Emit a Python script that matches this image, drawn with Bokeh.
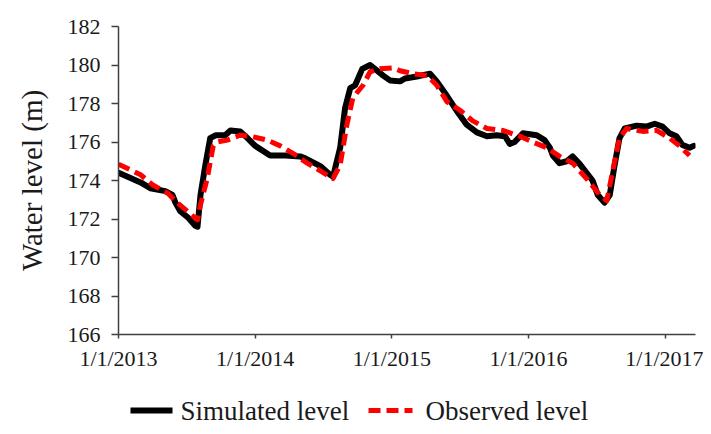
import pandas as pd
from bokeh.plotting import figure
from bokeh.layouts import column
from bokeh.models import FixedTicker, Range1d
from bokeh.core.properties import value
from bokeh.embed import file_html
from bokeh.resources import INLINE

# Simulated water level (m)
sim_dates = ["2013-01-01", "2013-03-01", "2013-03-27", "2013-05-06", "2013-05-25", "2013-06-02",
             "2013-06-15", "2013-07-07", "2013-07-25", "2013-07-31", "2013-08-08", "2013-08-21",
             "2013-09-03", "2013-09-17", "2013-10-13", "2013-10-27", "2013-11-22", "2013-12-06",
             "2014-01-01", "2014-02-10", "2014-03-22", "2014-05-01", "2014-05-15", "2014-06-24",
             "2014-07-20", "2014-07-28", "2014-08-16", "2014-08-29", "2014-09-12", "2014-09-25",
             "2014-10-14", "2014-11-04", "2014-12-09", "2014-12-27", "2015-01-23", "2015-02-05",
             "2015-03-09", "2015-04-13", "2015-05-01", "2015-05-28", "2015-06-24", "2015-07-20",
             "2015-08-16", "2015-09-12", "2015-10-08", "2015-10-30", "2015-11-12", "2015-11-25",
             "2015-12-17", "2016-01-23", "2016-02-13", "2016-02-27", "2016-03-06", "2016-03-24",
             "2016-04-12", "2016-04-28", "2016-05-17", "2016-06-04", "2016-06-20", "2016-07-04",
             "2016-07-22", "2016-08-05", "2016-08-18", "2016-08-31", "2016-09-14", "2016-10-16",
             "2016-11-11", "2016-12-03", "2016-12-24", "2017-01-12", "2017-01-30", "2017-02-15",
             "2017-03-06", "2017-03-17"]
sim_level = [174.4, 173.9, 173.6, 173.45, 173.25, 172.85,
             172.4, 172.05, 171.65, 171.6, 173.25, 174.8,
             176.2, 176.35, 176.35, 176.6, 176.55, 176.3,
             175.8, 175.3, 175.3, 175.25, 175.15, 174.75,
             174.3, 174.2, 175.7, 177.75, 178.8, 178.95,
             179.8, 180.0, 179.45, 179.2, 179.15, 179.3,
             179.4, 179.55, 179.15, 178.4, 177.6, 176.9,
             176.5, 176.3, 176.35, 176.3, 175.9, 176.0,
             176.45, 176.35, 176.1, 175.7, 175.3, 174.9,
             175.0, 175.25, 174.85, 174.4, 174.0, 173.25,
             172.85, 173.25, 174.8, 176.2, 176.7, 176.85,
             176.8, 176.95, 176.8, 176.45, 176.3, 175.85,
             175.7, 175.8]

# Observed water level (m)
obs_dates = ["2013-01-01", "2013-03-01", "2013-04-04", "2013-05-12", "2013-06-07", "2013-07-04",
             "2013-07-31", "2013-08-08", "2013-08-26", "2013-09-11", "2013-09-22", "2013-10-19",
             "2013-11-22", "2013-12-19", "2014-02-02", "2014-03-09", "2014-04-13", "2014-05-20",
             "2014-06-24", "2014-07-28", "2014-08-16", "2014-09-03", "2014-09-19", "2014-10-16",
             "2014-11-04", "2014-11-30", "2015-01-04", "2015-01-23", "2015-02-26", "2015-04-05",
             "2015-05-01", "2015-05-28", "2015-07-02", "2015-08-05", "2015-09-12", "2015-10-24",
             "2015-12-09", "2016-01-12", "2016-02-19", "2016-03-24", "2016-04-28", "2016-06-04",
             "2016-07-09", "2016-07-28", "2016-08-13", "2016-08-31", "2016-09-19", "2016-11-01",
             "2016-12-08", "2017-01-12", "2017-02-07", "2017-03-06"]
obs_level = [174.85, 174.3, 173.75, 173.35, 172.85, 172.4,
             171.95, 172.75, 174.1, 175.8, 176.0, 176.1,
             176.35, 176.3, 176.1, 175.8, 175.4, 174.9,
             174.5, 174.1, 174.8, 176.9, 178.3, 178.95,
             179.65, 179.8, 179.85, 179.7, 179.55, 179.45,
             178.95, 178.1, 177.65, 177.1, 176.7, 176.6,
             176.3, 176.0, 175.7, 175.25, 174.9, 174.1,
             173.25, 172.95, 174.5, 176.2, 176.7, 176.55,
             176.6, 176.2, 175.8, 175.3]

x_tick_dates = ["2013-01-01", "2014-01-01", "2015-01-01", "2016-01-01", "2017-01-01"]
x_tick_labels = ["1/1/2013", "1/1/2014", "1/1/2015", "1/1/2016", "1/1/2017"]
y_ticks = [166, 168, 170, 172, 174, 176, 178, 180, 182]
x_start, x_end = "2013-01-01", "2017-03-22"
series_names = ["Simulated level", "Observed level"]


def ms(dates):
    return [int(pd.Timestamp(d).value // 1_000_000) for d in dates]


FONT = "Liberation Serif"
TXT = "#1a1a1a"
AX = "#404040"
SIM_STYLE = dict(line_color="black", line_width=6)
OBS_STYLE = dict(line_color="#ff0000", line_width=5, line_dash="12 6")

W = 703
BL, BR = 118, 8
p = figure(width=W, height=380, output_backend="svg", toolbar_location=None,
           x_range=Range1d(ms([x_start])[0], ms([x_end])[0]),
           y_range=Range1d(166, 182),
           min_border_left=BL, min_border_right=BR, min_border_top=26, min_border_bottom=46)
p.outline_line_color = None
p.grid.visible = False

p.line(ms(sim_dates), sim_level, line_join="round", line_cap="round", **SIM_STYLE)
p.line(ms(obs_dates), obs_level, line_join="round", **OBS_STYLE)

xt = ms(x_tick_dates)
p.xaxis.ticker = FixedTicker(ticks=xt)
p.xaxis.major_label_overrides = {t: lab for t, lab in zip(xt, x_tick_labels)}
p.yaxis.ticker = FixedTicker(ticks=y_ticks)
p.yaxis.axis_label = "Water level (m)"

for ax in (p.xaxis, p.yaxis):
    ax.axis_line_color = AX
    ax.axis_line_width = 1.5
    ax.major_tick_line_color = AX
    ax.major_tick_line_width = 1.5
    ax.minor_tick_line_color = None
    ax.major_tick_in = 0
    ax.major_label_text_font = FONT
    ax.major_label_text_font_size = "22px"
    ax.major_label_text_color = TXT
    ax.axis_label_text_font = FONT
    ax.axis_label_text_font_size = "29px"
    ax.axis_label_text_font_style = "normal"
    ax.axis_label_text_color = TXT

p.yaxis.major_tick_out = 7
p.yaxis.major_label_standoff = 11
p.yaxis.axis_label_standoff = 17
p.xaxis.major_tick_out = 4
p.xaxis.major_label_standoff = 7

# legend strip below the chart (its frame is aligned with the chart frame,
# so its x range is expressed in page pixels of that frame)
LH = 46
leg = figure(width=W, height=LH, output_backend="svg", toolbar_location=None,
             x_range=Range1d(BL, W - BR), y_range=Range1d(0, LH),
             min_border_left=BL, min_border_right=BR, min_border_top=0, min_border_bottom=0)
leg.axis.visible = False
leg.grid.visible = False
leg.outline_line_color = None
yc = 16
leg.line([130, 172], [yc, yc], **SIM_STYLE)
leg.line([368, 412], [yc, yc], **OBS_STYLE)
leg.text([180, 425], [yc, yc], text=series_names, text_font=value(FONT),
         text_font_size="27px", text_color=TXT, text_baseline="middle", text_align="left")

layout = column(p, leg, spacing=0)
open("out.html", "w").write(file_html(layout, INLINE))
